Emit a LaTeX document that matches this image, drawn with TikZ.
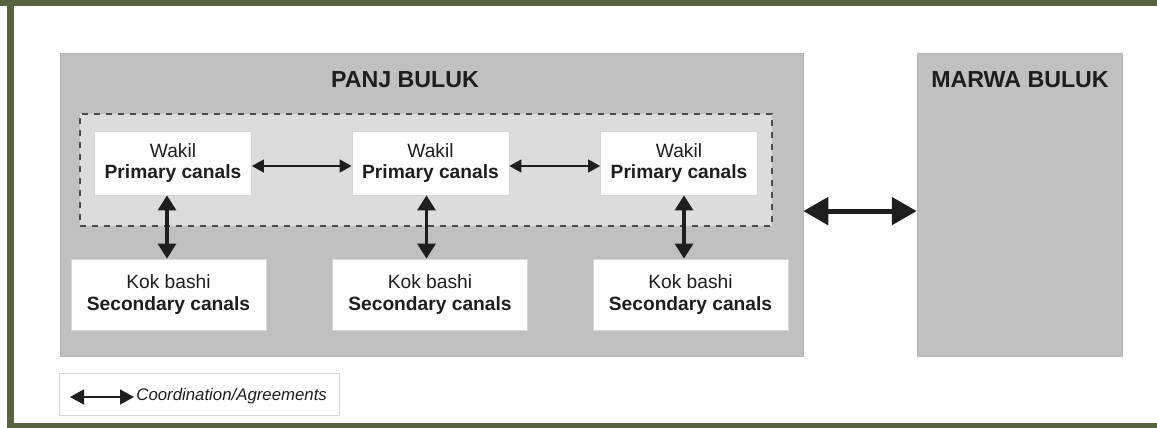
\documentclass[tikz,border=0pt]{standalone}
\usepackage{fontspec}
\setmainfont{Liberation Sans}
\usetikzlibrary{arrows.meta, positioning, calc}
\definecolor{framegreen}{HTML}{56653F}
\definecolor{bulukgray}{HTML}{C0C0C0}
\definecolor{innergray}{HTML}{DCDCDC}
\definecolor{edgegray}{HTML}{D6D6D6}
\definecolor{inkdark}{HTML}{1E1E1E}
\tikzset{
  bulukbox/.style={fill=bulukgray, draw=bulukgray!95!black, line width=0.25pt,
              minimum width=#1, minimum height=151.5pt, inner sep=0pt},
  titletext/.style={font=\fontsize{11.6}{13}\selectfont\bfseries, text=inkdark},
  groupbox/.style={fill=innergray, draw=inkdark!80, dashed, line width=0.6pt,
              minimum width=346pt, minimum height=56pt},
  wakilbox/.style={fill=white, draw=edgegray, line width=0.4pt,
              minimum width=78.5pt, minimum height=32pt, inner sep=0pt,
              align=center, text=inkdark, font=\fontsize{9.6}{10.6}\selectfont},
  kokbox/.style={wakilbox, minimum width=97.5pt, minimum height=35.5pt},
  thinarr/.style={{Triangle[length=6pt,width=6.5pt]}-{Triangle[length=6pt,width=6.5pt]},
              line width=0.75pt, color=inkdark},
  thickarr/.style={{Triangle[length=7.5pt,width=9pt]}-{Triangle[length=7.5pt,width=9pt]},
              line width=1.6pt, color=inkdark},
  bigarr/.style={{Triangle[length=12.5pt,width=13.5pt]}-{Triangle[length=12.5pt,width=13.5pt]},
              line width=2.6pt, color=inkdark},
}
\begin{document}
\begin{tikzpicture}[x=0.5pt, y=-0.5pt]
  \useasboundingbox (0,0) rectangle (1157,428);
  % frame
  \fill[framegreen] (0,0) rectangle (1157,6);
  \fill[framegreen] (7,0) rectangle (14,428);
  \fill[framegreen] (7,423) rectangle (1157,428);

  % the two buluks
  \node[bulukbox=371.5pt] (panj)  at (431.5,204.5) {};
  \node[bulukbox=102.5pt] (marwa) at (1019.5,204.5) {};
  \node[titletext] (panjt)  at (405,80)  {PANJ BULUK};
  \node[titletext] (marwat) at (1020,80) {MARWA BULUK};

  % wakils
  \node[groupbox] (grp) at (426,170) {};
  \node[wakilbox] (w1) at (173,163)   {Wakil\\\textbf{Primary canals}};
  \node[wakilbox] (w2) at (430.5,163) {Wakil\\\textbf{Primary canals}};
  \node[wakilbox] (w3) at (679,163)   {Wakil\\\textbf{Primary canals}};

  % kok bashis
  \node[kokbox] (k1) at (168.5,294.5) {Kok bashi\\\textbf{Secondary canals}};
  \node[kokbox] (k2) at (430,294.5)   {Kok bashi\\\textbf{Secondary canals}};
  \node[kokbox] (k3) at (690.5,294.5) {Kok bashi\\\textbf{Secondary canals}};

  \draw[thinarr] ([yshift=-1.5pt]w1.east) -- ([yshift=-1.5pt]w2.west);
  \draw[thinarr] ([yshift=-1.5pt]w2.east) -- ([yshift=-1.5pt]w3.west);
  \draw[thickarr] ([xshift=-3pt]w1.south) -- ([xshift=-3pt]w1.south |- k1.north);
  \draw[thickarr] ([xshift=-2pt]w2.south) -- ([xshift=-2pt]w2.south |- k2.north);
  \draw[thickarr] ([xshift=2.5pt]w3.south) -- ([xshift=2.5pt]w3.south |- k3.north);
  \draw[bigarr] ([yshift=-3.3pt]panj.east) -- ([yshift=-3.3pt]marwa.west);

  % legend
  \node[wakilbox, minimum width=140pt, minimum height=21pt] (legend) at (199,394) {};
  \coordinate (lga) at (70,397);
  \coordinate (lgb) at (134,397);
  \node[anchor=west, inner sep=0pt, text=inkdark,
        font=\fontsize{8.4}{10}\selectfont\itshape] (lgt) at (136,396) {Coordination/Agreements};
  \draw[thinarr, {Triangle[length=7pt,width=7.5pt]}-{Triangle[length=7pt,width=7.5pt]}] (lga) -- (lgb);
\end{tikzpicture}
\end{document}
